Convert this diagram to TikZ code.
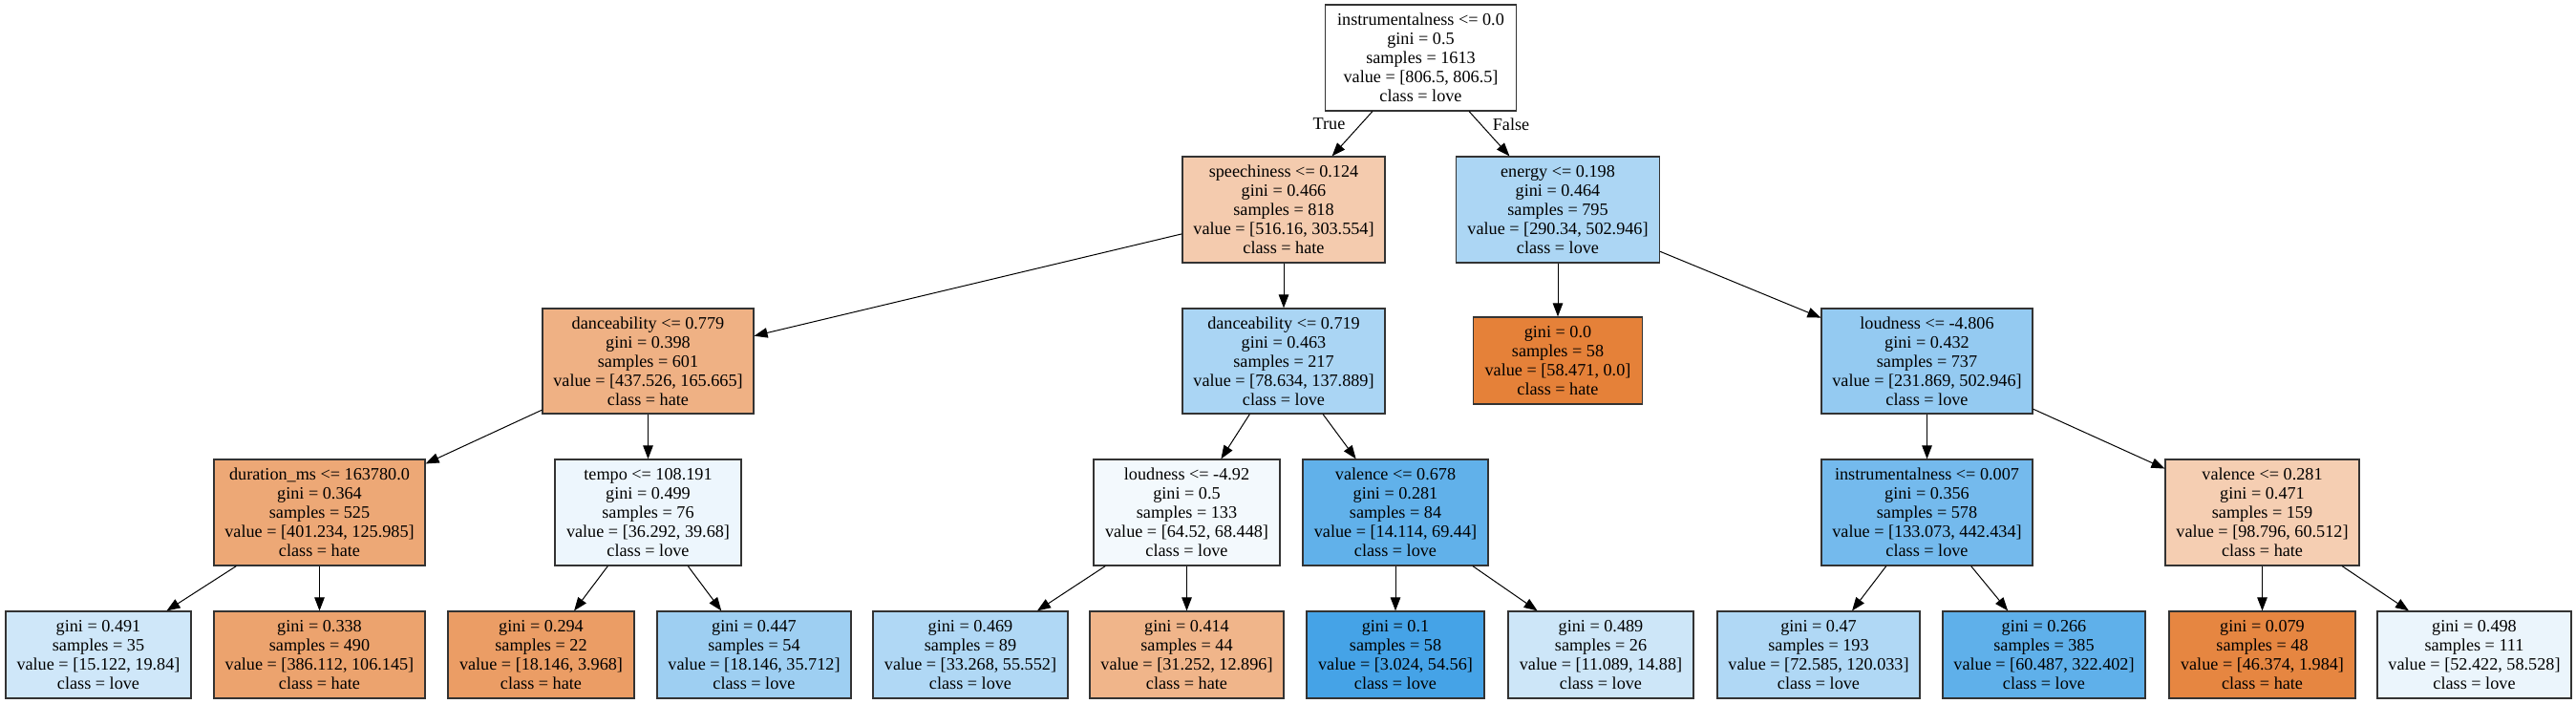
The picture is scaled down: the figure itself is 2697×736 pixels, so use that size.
\documentclass[tikz,border=0pt]{standalone}
\usepackage{fontspec}
\setmainfont{Liberation Serif}
\usetikzlibrary{arrows.meta}
\definecolor{hate}{RGB}{229,129,57}
\definecolor{love}{RGB}{57,157,229}
\begin{document}
\begin{tikzpicture}[x=1pt,y=-1pt,
  tn/.style={draw=black!80, line width=1.2pt, rectangle, inner sep=0pt, align=center,
             font=\fontsize{18.2}{20}\selectfont},
  inner/.style={tn, minimum height=111pt},
  leaf/.style={tn, minimum height=91pt},
  edge/.style={line width=1pt, -{Triangle[length=14pt,width=10.5pt]}},
  lbl/.style={font=\fontsize{18.2}{20}\selectfont, inner sep=0pt}]
\useasboundingbox[fill=white] (0,0) rectangle (2697,736);

% level 0
\node[inner, fill=white, minimum width=200pt] (root) at (1487.5,60.5)
  {instrumentalness <= 0.0\\gini = 0.5\\samples = 1613\\value = [806.5, 806.5]\\class = love};
% level 1
\node[inner, fill=hate!41!white, minimum width=212pt] (speech) at (1344,219.5)
  {speechiness <= 0.124\\gini = 0.466\\samples = 818\\value = [516.16, 303.554]\\class = hate};
\node[inner, fill=love!42!white, minimum width=213pt] (energy) at (1631,219.5)
  {energy <= 0.198\\gini = 0.464\\samples = 795\\value = [290.34, 502.946]\\class = love};
% level 2
\node[inner, fill=hate!62!white, minimum width=221pt, minimum height=110pt] (danceA) at (678.5,378)
  {danceability <= 0.779\\gini = 0.398\\samples = 601\\value = [437.526, 165.665]\\class = hate};
\node[inner, fill=love!43!white, minimum width=212pt, minimum height=110pt] (danceB) at (1344,378)
  {danceability <= 0.719\\gini = 0.463\\samples = 217\\value = [78.634, 137.889]\\class = love};
\node[leaf, fill=hate, minimum width=177pt] (leafE) at (1631,377.5)
  {gini = 0.0\\samples = 58\\value = [58.471, 0.0]\\class = hate};
\node[inner, fill=love!54!white, minimum width=221pt, minimum height=110pt] (loudA) at (2017.5,378)
  {loudness <= -4.806\\gini = 0.432\\samples = 737\\value = [231.869, 502.946]\\class = love};
% level 3
\node[inner, fill=hate!69!white, minimum width=221pt] (dur) at (334.5,536.5)
  {duration\_ms <= 163780.0\\gini = 0.364\\samples = 525\\value = [401.234, 125.985]\\class = hate};
\node[inner, fill=love!9!white, minimum width=195pt] (tempo) at (678.5,536.5)
  {tempo <= 108.191\\gini = 0.499\\samples = 76\\value = [36.292, 39.68]\\class = love};
\node[inner, fill=love!6!white, minimum width=195pt] (loudB) at (1242.5,536.5)
  {loudness <= -4.92\\gini = 0.5\\samples = 133\\value = [64.52, 68.448]\\class = love};
\node[inner, fill=love!80!white, minimum width=194pt] (valA) at (1461,536.5)
  {valence <= 0.678\\gini = 0.281\\samples = 84\\value = [14.114, 69.44]\\class = love};
\node[inner, fill=love!70!white, minimum width=221pt] (instr) at (2017.5,536.5)
  {instrumentalness <= 0.007\\gini = 0.356\\samples = 578\\value = [133.073, 442.434]\\class = love};
\node[inner, fill=hate!39!white, minimum width=203pt] (valB) at (2368.5,536.5)
  {valence <= 0.281\\gini = 0.471\\samples = 159\\value = [98.796, 60.512]\\class = hate};
% level 4
\node[leaf, fill=love!24!white, minimum width=194pt] (l1) at (103,685.5)
  {gini = 0.491\\samples = 35\\value = [15.122, 19.84]\\class = love};
\node[leaf, fill=hate!73!white, minimum width=221pt] (l2) at (334.5,685.5)
  {gini = 0.338\\samples = 490\\value = [386.112, 106.145]\\class = hate};
\node[leaf, fill=hate!78!white, minimum width=195pt] (l3) at (566.5,685.5)
  {gini = 0.294\\samples = 22\\value = [18.146, 3.968]\\class = hate};
\node[leaf, fill=love!49!white, minimum width=203pt] (l4) at (789.5,685.5)
  {gini = 0.447\\samples = 54\\value = [18.146, 35.712]\\class = love};
\node[leaf, fill=love!40!white, minimum width=204pt] (l5) at (1016,685.5)
  {gini = 0.469\\samples = 89\\value = [33.268, 55.552]\\class = love};
\node[leaf, fill=hate!59!white, minimum width=203pt] (l6) at (1242.5,685.5)
  {gini = 0.414\\samples = 44\\value = [31.252, 12.896]\\class = hate};
\node[leaf, fill=love!94!white, minimum width=186pt] (l7) at (1461,685.5)
  {gini = 0.1\\samples = 58\\value = [3.024, 54.56]\\class = love};
\node[leaf, fill=love!25!white, minimum width=194pt] (l8) at (1676,685.5)
  {gini = 0.489\\samples = 26\\value = [11.089, 14.88]\\class = love};
\node[leaf, fill=love!40!white, minimum width=212pt] (l9) at (1904,685.5)
  {gini = 0.47\\samples = 193\\value = [72.585, 120.033]\\class = love};
\node[leaf, fill=love!81!white, minimum width=212pt] (l10) at (2140,685.5)
  {gini = 0.266\\samples = 385\\value = [60.487, 322.402]\\class = love};
\node[leaf, fill=hate!96!white, minimum width=195pt] (l11) at (2368.5,685.5)
  {gini = 0.079\\samples = 48\\value = [46.374, 1.984]\\class = hate};
\node[leaf, fill=love!10!white, minimum width=203pt] (l12) at (2590.5,685.5)
  {gini = 0.498\\samples = 111\\value = [52.422, 58.528]\\class = love};

% edge labels
\node[lbl] (tlab) at (1391.5,130) {True};
\node[lbl] (flab) at (1582,130) {False};

% edges
\draw[edge] (root) -- (speech);
\draw[edge] (root) -- (energy);
\draw[edge] (speech) -- (danceA);
\draw[edge] (speech) -- (danceB);
\draw[edge] (energy) -- (leafE);
\draw[edge] (energy) -- (loudA);
\draw[edge] (danceA) -- (dur);
\draw[edge] (danceA) -- (tempo);
\draw[edge] (danceB) -- (loudB);
\draw[edge] (danceB) -- (valA);
\draw[edge] (loudA) -- (instr);
\draw[edge] (loudA) -- (valB);
\draw[edge] (dur) -- (l1);
\draw[edge] (dur) -- (l2);
\draw[edge] (tempo) -- (l3);
\draw[edge] (tempo) -- (l4);
\draw[edge] (loudB) -- (l5);
\draw[edge] (loudB) -- (l6);
\draw[edge] (valA) -- (l7);
\draw[edge] (valA) -- (l8);
\draw[edge] (instr) -- (l9);
\draw[edge] (instr) -- (l10);
\draw[edge] (valB) -- (l11);
\draw[edge] (valB) -- (l12);
\end{tikzpicture}
\end{document}
